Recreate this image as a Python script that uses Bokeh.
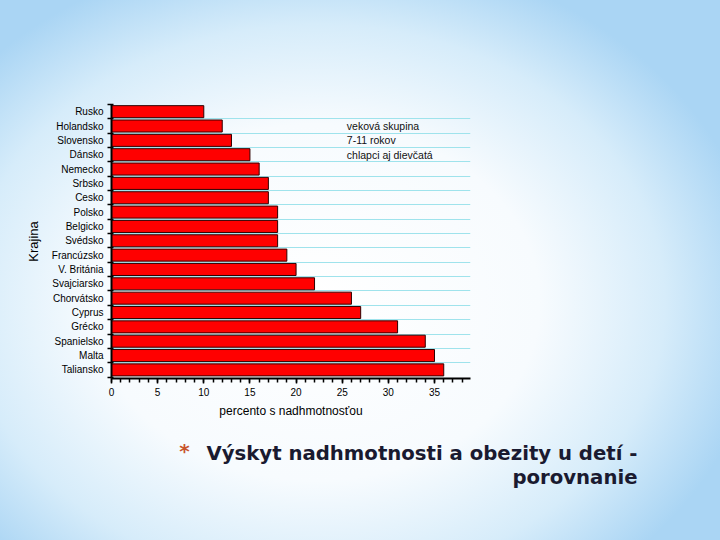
from bokeh.plotting import figure
from bokeh.models import Range1d, FixedTicker, Label, ColumnDataSource
from bokeh.layouts import column
from bokeh.core.properties import value
from bokeh.embed import file_html
from bokeh.resources import INLINE

countries = ["Rusko", "Holandsko", "Slovensko", "Dánsko", "Nemecko", "Srbsko", "Cesko",
             "Polsko", "Belgicko", "Svédsko", "Francúzsko", "V. Británia", "Svajciarsko",
             "Chorvátsko", "Cyprus", "Grécko", "Spanielsko", "Malta", "Taliansko"]
values = [10, 12, 13, 15, 16, 17, 17, 18, 18, 18, 19, 20, 22, 26, 27, 31, 34, 35, 36]
x_ticks = [0, 5, 10, 15, 20, 25, 30, 35]
note_lines = ["veková skupina", "7-11 rokov", "chlapci aj dievčatá"]
title_line1 = "Výskyt nadhmotnosti a obezity u detí -"
title_line2 = "porovnanie"

FONT = "Liberation Sans"
idx = list(range(len(countries)))

p = figure(width=720, height=438, output_backend="svg", toolbar_location=None,
           x_range=Range1d(0, 38.9), y_range=Range1d(len(countries) - 0.4, -0.5),
           min_border_left=111, min_border_right=250, min_border_top=104, min_border_bottom=60)
p.frame_align = False
p.background_fill_color = None
p.border_fill_color = None
p.outline_line_color = None

src = ColumnDataSource(dict(y=idx, right=values))
p.hbar(y="y", right="right", left=0, height=0.84, source=src,
       fill_color="#ff0000", line_color="#300000", line_width=1)

# grid lines at category boundaries
p.xgrid.grid_line_color = None
p.ygrid.ticker = FixedTicker(ticks=[i + 0.5 for i in idx[:-1]])
p.ygrid.grid_line_color = "#9fe3ec"
p.ygrid.grid_line_width = 1

# y axis
p.yaxis.ticker = FixedTicker(ticks=idx, minor_ticks=[i - 0.5 for i in idx] + [len(idx) - 0.5])
p.yaxis.major_label_overrides = {i: c for i, c in zip(idx, countries)}
p.yaxis.major_tick_out = 0
p.yaxis.major_tick_in = 0
p.yaxis.minor_tick_out = 4
p.yaxis.minor_tick_in = 2
p.yaxis.minor_tick_line_color = "black"
p.yaxis.major_label_standoff = 4
p.yaxis.axis_label = "Krajina"
p.yaxis.axis_label_standoff = 8

# x axis
p.xaxis.ticker = FixedTicker(ticks=x_ticks, minor_ticks=list(range(0, 39)))
p.xaxis.major_tick_out = 5
p.xaxis.major_tick_in = 0
p.xaxis.minor_tick_out = 4
p.xaxis.minor_tick_in = 0
p.xaxis.major_label_standoff = 4
p.xaxis.axis_label = "percento s nadhmotnosťou"
p.xaxis.axis_label_standoff = 5

for ax in (p.xaxis, p.yaxis):
    ax.axis_line_color = "black"
    ax.axis_line_width = 2
    ax.major_tick_line_color = "black"
    ax.major_tick_line_width = 1.5
    ax.minor_tick_line_width = 1.5
    ax.major_label_text_font = FONT
    ax.major_label_text_font_size = "10px"
    ax.major_label_text_color = "black"
    ax.axis_label_text_font = FONT
    ax.axis_label_text_font_size = "12px"
    ax.axis_label_text_font_style = "normal"
    ax.axis_label_text_color = "black"
p.yaxis.axis_label_text_font_size = "13px"

for i, line in enumerate(note_lines):
    p.add_layout(Label(x=25.5, y=i + 1, text=line, text_font=FONT, text_font_size="10.5px",
                       text_baseline="middle", text_color="#111111"))

# title area (second figure, pixel-like coordinates from its top-left)
t = figure(width=720, height=102, output_backend="svg", toolbar_location=None,
           x_range=Range1d(0, 720), y_range=Range1d(102, 0),
           x_axis_location=None, y_axis_location=None,
           min_border=0, min_border_left=0, min_border_right=0, min_border_top=0, min_border_bottom=0)
t.frame_align = False
t.background_fill_color = None
t.border_fill_color = None
t.outline_line_color = None
t.grid.grid_line_color = None

TFONT = "DejaVu Sans"
t.text(x=[637, 637], y=[15, 39], text=[title_line1, title_line2],
       text_align="right", text_baseline="alphabetic", text_font=value(TFONT),
       text_font_size="19.7px", text_font_style="bold", text_color="#1a1a30")
t.text(x=[184], y=[12], text=["*"], text_align="center", text_baseline="alphabetic",
       text_font=value(TFONT), text_font_size="20px", text_font_style="bold",
       text_color="#c8542c")

layout = column(p, t, spacing=0)
html = file_html(layout, INLINE)
css = ("<style>html{min-height:100%;background:radial-gradient(ellipse 62% 66% at 44% 56%, "
       "#ffffff 0%, #f7fbfe 50%, #d6ecfa 78%, #aad5f4 100%) fixed;}body{background:transparent;}</style>")
html = html.replace("</head>", css + "</head>", 1)
open("out.html", "w").write(html)
